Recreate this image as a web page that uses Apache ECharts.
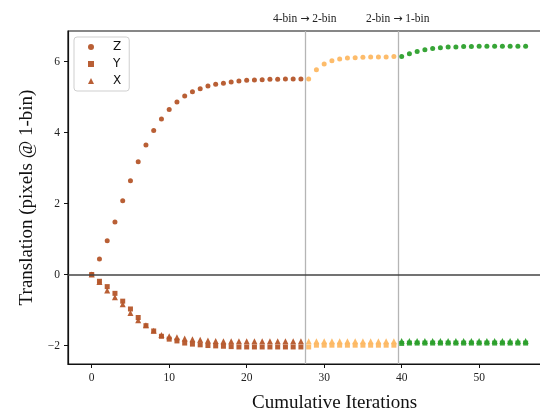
<!DOCTYPE html>
<html>
<head>
<meta charset="utf-8">
<script src="https://cdn.jsdelivr.net/npm/echarts@6/dist/echarts.min.js"></script>
<style>
  html, body { margin: 0; padding: 0; background: #fff; }
  #chart { width: 540px; height: 415px; }
</style>
</head>
<body>
<div id="chart"></div>
<script>
// iterations 0..56
const iterations = Array.from({ length: 57 }, (_, i) => i)

// translation per axis (pixels @ 1-bin)
const zVals = [
  0, 0.44, 0.95, 1.48, 2.08, 2.64, 3.18, 3.65, 4.06, 4.38,
  4.65, 4.86, 5.03, 5.15, 5.23, 5.31, 5.36, 5.39, 5.42, 5.45,
  5.47, 5.48, 5.49, 5.50, 5.50, 5.51, 5.51, 5.51, 5.51, 5.77,
  5.93, 6.02, 6.07, 6.10, 6.11, 6.12, 6.13, 6.13, 6.13, 6.14,
  6.14, 6.22, 6.28, 6.33, 6.37, 6.39, 6.41, 6.41, 6.42, 6.42,
  6.43, 6.43, 6.43, 6.43, 6.43, 6.43, 6.43
]
const yVals = [
  0, -0.19, -0.34, -0.53, -0.75, -0.97, -1.21, -1.44, -1.59, -1.74,
  -1.82, -1.87, -1.93, -1.96, -1.98, -2.00, -2.01, -2.02, -2.03, -2.04,
  -2.04, -2.04, -2.04, -2.04, -2.04, -2.04, -2.04, -2.04, -2.04, -1.99,
  -1.99, -1.99, -1.99, -1.99, -1.99, -1.99, -1.99, -1.99, -1.99, -1.99,
  -1.94, -1.93, -1.93, -1.93, -1.93, -1.93, -1.93, -1.93, -1.93, -1.93,
  -1.93, -1.93, -1.93, -1.93, -1.93, -1.93, -1.93
]
const xVals = [
  0, -0.21, -0.45, -0.64, -0.84, -1.08, -1.29, -1.43, -1.58, -1.70,
  -1.74, -1.77, -1.80, -1.82, -1.84, -1.86, -1.87, -1.88, -1.88, -1.88,
  -1.88, -1.88, -1.88, -1.88, -1.88, -1.88, -1.88, -1.88, -1.88, -1.88,
  -1.88, -1.88, -1.88, -1.88, -1.88, -1.88, -1.88, -1.88, -1.88, -1.88,
  -1.87, -1.87, -1.87, -1.87, -1.87, -1.87, -1.87, -1.87, -1.87, -1.87,
  -1.87, -1.87, -1.87, -1.87, -1.87, -1.87, -1.87
]

// binning phases: [first iteration, last iteration]
const phases = [[0, 27], [28, 39], [40, 56]]
const phaseColors = ['#b5562a', '#fdb863', '#2ca02c']
const transitions = [27.5, 39.5]
const transitionLabels = [['4-bin', '2-bin'], ['2-bin', '1-bin']]

// tick labels
const xTicks = [0, 10, 20, 30, 40, 50]
const yTicks = [-2, 0, 2, 4, 6]

const serif = 'Liberation Serif'
const chart = echarts.init(document.getElementById('chart'))

const components = [
  { name: 'Z', values: zVals, symbol: 'circle', size: 5 },
  { name: 'Y', values: yVals, symbol: 'rect', size: 5 },
  { name: 'X', values: xVals, symbol: 'triangle', size: 6 }
]

const series = []
components.forEach((c) => {
  phases.forEach(([a, b], pi) => {
    series.push({
      name: c.name,
      type: 'scatter',
      symbol: c.symbol,
      symbolSize: c.size,
      itemStyle: { color: phaseColors[pi], opacity: 0.95 },
      data: iterations.slice(a, b + 1).map((it) => [it, c.values[it]]),
      z: 3
    })
  })
})

// reference lines
series.push({
  type: 'line',
  data: [],
  silent: true,
  markLine: {
    silent: true,
    symbol: 'none',
    animation: false,
    data: [
      ...transitions.map((t, i) => ({
        xAxis: t,
        lineStyle: { color: '#b5b5b5', width: 1.3, type: 'solid' },
        label: {
          show: true,
          position: 'end',
          formatter: `{a|${transitionLabels[i][0]} }{r|\u2192}{a| ${transitionLabels[i][1]}}`,
          distance: 6,
          rich: {
            a: { fontFamily: serif, fontSize: 11.5, color: '#222' },
            r: { fontFamily: 'DejaVu Sans', fontSize: 11, color: '#222' }
          }
        }
      })),
      {
        yAxis: 0,
        lineStyle: { color: '#444', width: 1.5, type: 'solid' },
        label: { show: false }
      }
    ]
  },
  z: 2
})

const minus = (v) => String(v).replace('-', '\u2212')
const tickLabel = { fontFamily: serif, fontSize: 11.5, color: '#222', margin: 8, formatter: minus }

chart.setOption({
  animation: false,
  grid: {
    left: 68, top: 31, right: -5, bottom: 51,
    outerBoundsMode: 'none',
    containLabel: false,
    show: true, borderColor: '#111', borderWidth: 1.2
  },
  legend: {
    data: [
      { name: 'Z', icon: 'circle', itemStyle: { color: phaseColors[0] } },
      { name: 'Y', icon: 'rect', itemStyle: { color: phaseColors[0] } },
      { name: 'X', icon: 'triangle', itemStyle: { color: phaseColors[0] } }
    ],
    orient: 'vertical',
    left: 74,
    top: 37,
    itemWidth: 6,
    itemHeight: 6,
    itemGap: 3,
    padding: [3, 8, 3, 14],
    borderColor: '#cfcfcf',
    borderWidth: 1,
    borderRadius: 3,
    backgroundColor: '#fff',
    textStyle: {
      fontFamily: 'DejaVu Sans', fontSize: 12, color: '#111', lineHeight: 14,
      padding: [0, 0, 0, 14]
    }
  },
  xAxis: {
    type: 'value',
    min: -3.06,
    max: 58.5,
    splitLine: { show: false },
    axisLine: { onZero: false, lineStyle: { color: '#111', width: 1.2 } },
    axisTick: { show: true, length: 4, customValues: xTicks, lineStyle: { color: '#111' } },
    axisLabel: { ...tickLabel, customValues: xTicks }
  },
  yAxis: {
    type: 'value',
    min: -2.52,
    max: 6.86,
    name: 'Translation (pixels @ 1-bin)',
    nameLocation: 'middle',
    nameGap: 30,
    nameTextStyle: { fontFamily: serif, fontSize: 19, color: '#111' },
    splitLine: { show: false },
    axisLine: { show: true, onZero: false, lineStyle: { color: '#111', width: 1.2 } },
    axisTick: { show: true, length: 4, customValues: yTicks, lineStyle: { color: '#111' } },
    axisLabel: { ...tickLabel, customValues: yTicks }
  },
  graphic: [{
    type: 'text',
    left: 252,
    top: 394,
    style: { text: 'Cumulative Iterations', font: '19px "Liberation Serif"', fill: '#111' }
  }],
  series
})
</script>
</body>
</html>
